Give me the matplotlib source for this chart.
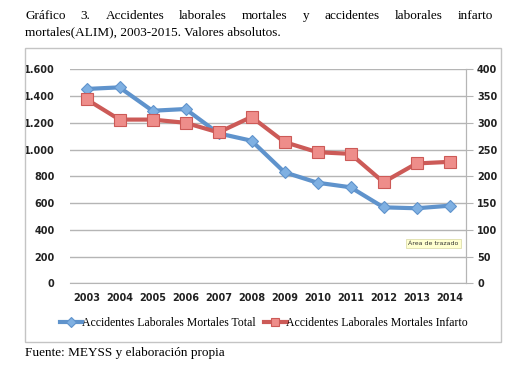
import numpy as np
import matplotlib.pyplot as plt
from matplotlib.patches import Rectangle

years = ['2003', '2004', '2005', '2006', '2007', '2008', '2009',
         '2010', '2011', '2012', '2013', '2014']
total = [1453, 1465, 1290, 1303, 1121, 1066, 830, 752, 718, 568, 561, 580]
infarto = [344, 306, 306, 300, 282, 311, 264, 245, 242, 189, 224, 227]

left_ticks = [0, 200, 400, 600, 800, 1000, 1200, 1400, 1600]
left_labels = ['0', '200', '400', '600', '800', '1.000', '1.200', '1.400', '1.600']
right_ticks = [0, 50, 100, 150, 200, 250, 300, 350, 400]

blue = '#5f93cc'
blue_fill = '#7fb0e2'
red = '#cc5a57'
red_fill = '#ee8d8a'
grid_c = '#b5b5b5'
serif = 'Liberation Serif'
W, H = 524, 366

fig = plt.figure(figsize=(5.24, 3.66), dpi=100)

# outer chart frame
fig.patches.append(Rectangle((25 / W, 1 - 342 / H), 476 / W, 294 / H,
                             transform=fig.transFigure, fill=False,
                             edgecolor='#c4c4c4', linewidth=1.0))

ax = fig.add_axes([70 / W, 1 - 283.3 / H, 396 / W, 214 / H])
x = np.arange(len(years))

ax.plot(x, total, color=blue, lw=3, marker='D', ms=6.5,
        mfc=blue_fill, mec=blue, mew=0.8, zorder=3,
        label='Accidentes Laborales Mortales Total')
ax.set_ylim(0, 1600)
ax.set_xlim(-0.5, len(years) - 0.5)
ax.set_yticks(left_ticks)
ax.set_yticklabels(left_labels)
ax.set_xticks(x)
ax.set_xticklabels(years)
ax.yaxis.grid(True, color=grid_c, lw=1)
ax.set_axisbelow(True)
for s in ['top', 'left']:
    ax.spines[s].set_visible(False)
ax.spines['bottom'].set_color(grid_c)
ax.spines['right'].set_color(grid_c)
ax.tick_params(axis='x', length=0, pad=7)
ax.tick_params(axis='y', length=0, pad=11)
for lab in ax.get_xticklabels() + ax.get_yticklabels():
    lab.set_fontsize(7)
    lab.set_fontweight('bold')
    lab.set_color('#222222')

ax2 = ax.twinx()
ax2.plot(x, infarto, color=red, lw=3, marker='s', ms=8,
         mfc=red_fill, mec=red, mew=0.8, zorder=3,
         label='Accidentes Laborales Mortales Infarto')
ax2.set_ylim(0, 400)
ax2.set_yticks(right_ticks)
for s in ['top', 'left', 'bottom']:
    ax2.spines[s].set_visible(False)
ax2.spines['right'].set_color(grid_c)
ax2.tick_params(axis='y', length=5, color=grid_c, pad=3)
for lab in ax2.get_yticklabels():
    lab.set_fontsize(7)
    lab.set_fontweight('bold')
    lab.set_color('#222222')

# tooltip artifact
ax.text(9.75, 285, 'Área de trazado', fontsize=4.5, color='#333333',
        bbox=dict(boxstyle='square,pad=0.3', fc='#ffffd0', ec='#d8d8a0', lw=0.5),
        zorder=5)

h1, l1 = ax.get_legend_handles_labels()
h2, l2 = ax2.get_legend_handles_labels()
fig.legend(h1 + h2, l1 + l2, loc='center', bbox_to_anchor=(264 / W, 1 - 323 / H),
           ncol=2, frameon=False, prop={'family': serif, 'size': 8.5},
           handlelength=1.9, handletextpad=0.0, columnspacing=0.7, markerscale=0.8)

# justified first title line
words = 'Gráfico 3. Accidentes laborales mortales y accidentes laborales infarto'.split()
tfont = dict(family=serif, fontsize=9.5, va='center', ha='left')
renderer = fig.canvas.get_renderer()
objs = [fig.text(0, 1 - 16 / H, w, **tfont) for w in words]
widths = [o.get_window_extent(renderer).width for o in objs]
gap = (493 - 25 - sum(widths)) / (len(words) - 1)
pos = 25
for o, w in zip(objs, widths):
    o.set_x(pos / W)
    pos += w + gap

fig.text(25 / W, 1 - 32 / H, 'mortales(ALIM), 2003-2015. Valores absolutos.', **tfont)
fig.text(25 / W, 1 - 353 / H, 'Fuente: MEYSS y elaboración propia', **tfont)

fig.savefig('out.png', dpi=100)
